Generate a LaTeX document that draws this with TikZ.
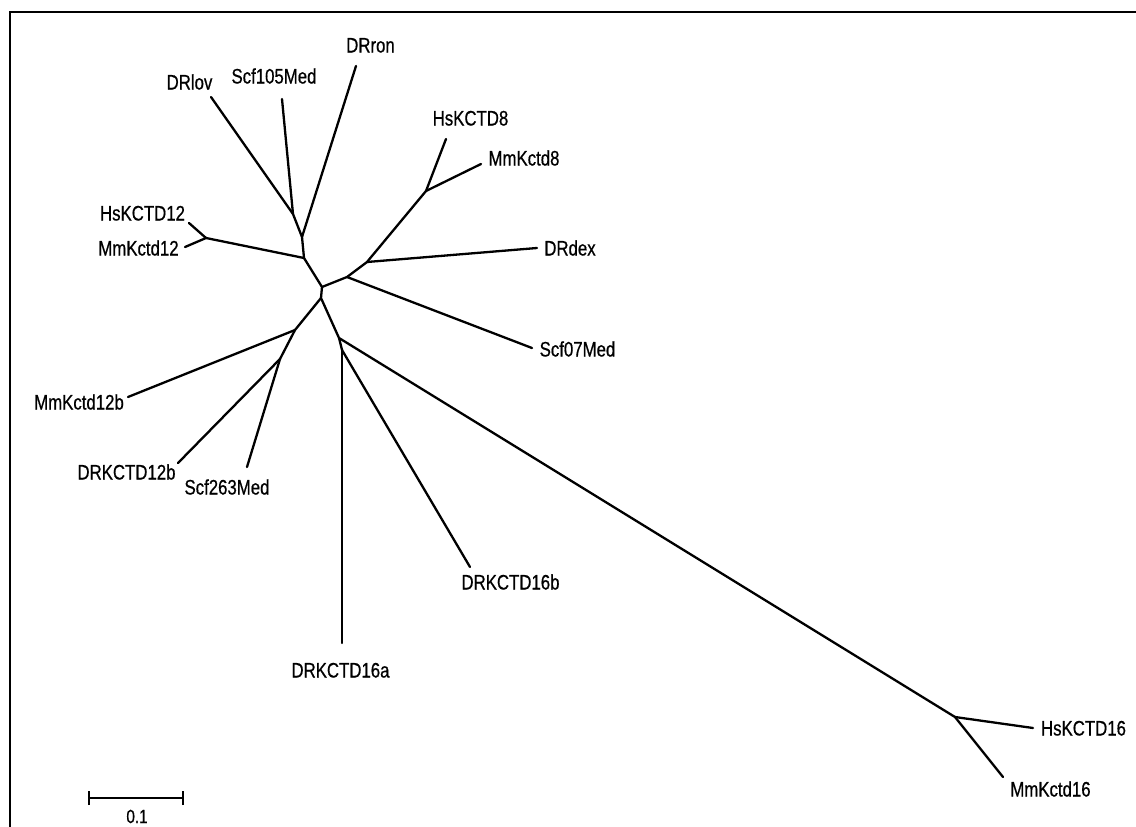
\documentclass[tikz,border=0pt]{standalone}
\usepackage{fontspec}
\setmainfont{Liberation Sans}[FakeStretch=0.8,FakeBold=0.6]
\begin{document}
\begin{tikzpicture}[x=1pt,y=-1pt,
  br/.style={line width=2.3pt,line cap=round,line join=round},
  lab/.style={inner sep=0pt,anchor=base,font=\fontsize{21}{21}\selectfont},
  frame/.style={line width=2.6pt}]
\useasboundingbox (0,0) rectangle (1136,827);
% frame
\coordinate (f1) at (10,827);
\coordinate (f2) at (10,12);
\coordinate (f3) at (1136,12);
\draw[frame] (f1) -- (f2) -- (f3);
% internal nodes
\coordinate (A) at (293,214);
\coordinate (B) at (302,237);
\coordinate (C) at (304,258);
\coordinate (D) at (322,287);
\coordinate (E) at (321,298);
\coordinate (F) at (347,277);
\coordinate (G) at (367,262);
\coordinate (H) at (426,191);
\coordinate (I) at (206,238);
\coordinate (J) at (295,330);
\coordinate (K) at (280,359);
\coordinate (L) at (339,338);
\coordinate (N) at (342,350);
\coordinate (M) at (955,717);
% tips
\coordinate (tDRov) at (211,97);
\coordinate (tScf105) at (282,99);
\coordinate (tDRron) at (356,66);
\coordinate (tHs8) at (446,139);
\coordinate (tMm8) at (481,164);
\coordinate (tDRdex) at (537,248);
\coordinate (tHs12) at (189,223);
\coordinate (tMm12) at (185,247);
\coordinate (tScf07) at (532,348);
\coordinate (tMm12b) at (128,397);
\coordinate (tDR12b) at (178,463);
\coordinate (tScf263) at (247,467);
\coordinate (t16a) at (342,643);
\coordinate (t16b) at (470,567);
\coordinate (tHs16) at (1033,728);
\coordinate (tMm16) at (1003,777);
% branches
\draw[br] (E) -- (D) -- (C) -- (B) -- (A);
\draw[br] (A) -- (tDRov);
\draw[br] (A) -- (tScf105);
\draw[br] (B) -- (tDRron);
\draw[br] (C) -- (I);
\draw[br] (I) -- (tHs12);
\draw[br] (I) -- (tMm12);
\draw[br] (D) -- (F) -- (G) -- (H);
\draw[br] (F) -- (tScf07);
\draw[br] (G) -- (tDRdex);
\draw[br] (H) -- (tHs8);
\draw[br] (H) -- (tMm8);
\draw[br] (E) -- (J) -- (K);
\draw[br] (J) -- (tMm12b);
\draw[br] (K) -- (tDR12b);
\draw[br] (K) -- (tScf263);
\draw[br] (E) -- (L) -- (N);
\draw[br] (N) -- (t16a);
\draw[br] (N) -- (t16b);
\draw[br] (L) -- (M);
\draw[br] (M) -- (tHs16);
\draw[br] (M) -- (tMm16);
% labels
\node[lab] (lDRov) at (189.5,89.5) {DRlov};
\node[lab] (lScf105) at (274,83.5) {Scf105Med};
\node[lab] (lDRron) at (370.5,52.5) {DRron};
\node[lab] (lHs8) at (470.5,125.5) {HsKCTD8};
\node[lab] (lMm8) at (524,165.5) {MmKctd8};
\node[lab] (lDRdex) at (570,255.5) {DRdex};
\node[lab] (lHs12) at (142.5,220.5) {HsKCTD12};
\node[lab] (lMm12) at (138.5,255.5) {MmKctd12};
\node[lab] (lScf07) at (577.5,356.5) {Scf07Med};
\node[lab] (lMm12b) at (79,409.5) {MmKctd12b};
\node[lab] (lDR12b) at (126.5,479.5) {DRKCTD12b};
\node[lab] (lScf263) at (227,494.5) {Scf263Med};
\node[lab] (l16a) at (340.5,677.5) {DRKCTD16a};
\node[lab] (l16b) at (510.5,589.5) {DRKCTD16b};
\node[lab] (lHs16) at (1083.5,735.5) {HsKCTD16};
\node[lab] (lMm16) at (1050.5,796.5) {MmKctd16};
% scale bar
\coordinate (s1) at (89,798);
\coordinate (s2) at (183,798);
\draw[br,line cap=butt] (s1) -- (s2);
\draw[line width=1.6pt] ([yshift=-7pt]s1) -- ([yshift=7pt]s1);
\draw[line width=1.6pt] ([yshift=-7pt]s2) -- ([yshift=7pt]s2);
\node[inner sep=0pt,anchor=base,font=\fontsize{19}{19}\selectfont] (sl) at (137,823) {0.1};
\end{tikzpicture}
\end{document}
